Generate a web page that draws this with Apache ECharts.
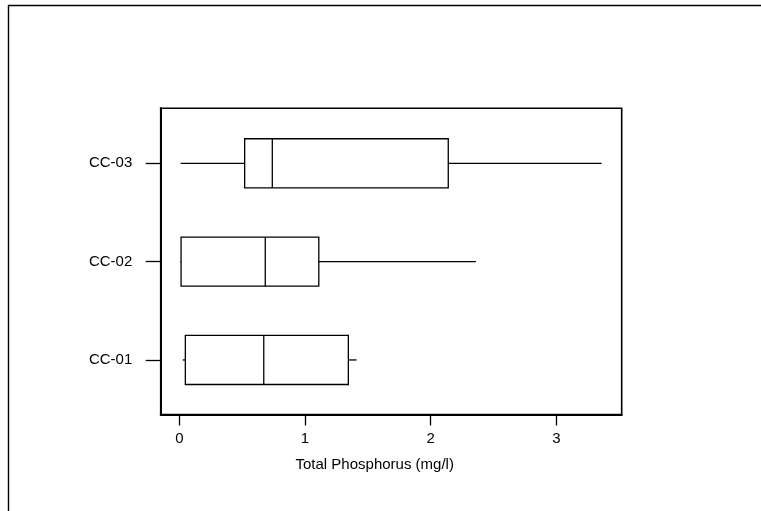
<!DOCTYPE html>
<html>
<head>
<meta charset="utf-8">
<script src="https://cdn.jsdelivr.net/npm/echarts@6/dist/echarts.min.js"></script>
<style>html,body{margin:0;padding:0;background:#fff}#c{width:761px;height:511px}</style>
</head>
<body>
<div id="c"></div>
<script>
const categories = ['CC-01', 'CC-02', 'CC-03'];
const minVals = [0.027, 0.008, 0.011];
const q1Vals = [0.048, 0.014, 0.52];
const medianVals = [0.672, 0.684, 0.74];
const q3Vals = [1.345, 1.11, 2.14];
const maxVals = [1.41, 2.36, 3.36];
const xTickValues = [0, 1, 2, 3];
const catPositions = [1, 2, 3];
const xTitle = 'Total Phosphorus (mg/l)';

const FONT = 'Liberation Sans, Arial, sans-serif';
const data = categories.map((c, i) => [catPositions[i], minVals[i], q1Vals[i], medianVals[i], q3Vals[i], maxVals[i]]);

const chart = echarts.init(document.getElementById('c'), null, {renderer: 'canvas'});
chart.setOption({
  animation: false,
  backgroundColor: '#fff',
  graphic: [{
    type: 'rect', silent: true,
    shape: {x: 8.5, y: 5.5, width: 800, height: 600},
    style: {fill: 'none', stroke: '#000', lineWidth: 1.4}
  }],
  grid: {
    left: 160.7, top: 108.3, width: 461, height: 306.2,
    show: true, borderColor: '#000', borderWidth: 1.6, backgroundColor: 'transparent'
  },
  xAxis: {
    type: 'value', min: -0.148, max: 3.52,
    splitLine: {show: false},
    axisLine: {show: true, onZero: false, lineStyle: {color: '#000', width: 2}},
    axisTick: {show: true, customValues: xTickValues, length: 11, lineStyle: {color: '#000', width: 1.3}},
    axisLabel: {customValues: xTickValues, margin: 17, color: '#000', fontFamily: FONT, fontSize: 15},
    name: xTitle, nameLocation: 'middle', nameGap: 43,
    nameTextStyle: {color: '#000', fontFamily: FONT, fontSize: 15, padding: [0, 33, 0, 0]}
  },
  yAxis: {
    type: 'value', min: 0.445, max: 3.56,
    splitLine: {show: false},
    axisLine: {show: true, onZero: false, lineStyle: {color: '#000', width: 2}},
    axisTick: {show: true, customValues: catPositions, length: 15, lineStyle: {color: '#000', width: 1.3}},
    axisLabel: {
      customValues: catPositions, margin: 28.4, color: '#000', fontFamily: FONT, fontSize: 15,
      padding: [0, 0, 4, 0],
      formatter: v => categories[Math.round(v) - 1]
    }
  },
  series: [{
    type: 'custom',
    encode: {x: [1, 2, 3, 4, 5], y: 0},
    data: data,
    renderItem: function (params, api) {
      const y = api.value(0);
      const pMin = api.coord([api.value(1), y]);
      const pQ1 = api.coord([api.value(2), y]);
      const pMed = api.coord([api.value(3), y]);
      const pQ3 = api.coord([api.value(4), y]);
      const pMax = api.coord([api.value(5), y]);
      const half = api.size([0, 0.25])[1];
      const st = {stroke: '#000', lineWidth: 1.3, fill: 'none'};
      return {
        type: 'group',
        children: [
          {type: 'line', shape: {x1: pMin[0], y1: pMin[1], x2: pQ1[0], y2: pQ1[1]}, style: st},
          {type: 'line', shape: {x1: pQ3[0], y1: pQ3[1], x2: pMax[0], y2: pMax[1]}, style: st},
          {type: 'rect', shape: {x: pQ1[0], y: pQ1[1] - half, width: pQ3[0] - pQ1[0], height: 2 * half}, style: st},
          {type: 'line', shape: {x1: pMed[0], y1: pMed[1] - half, x2: pMed[0], y2: pMed[1] + half}, style: st}
        ]
      };
    }
  }]
});
</script>
</body>
</html>
